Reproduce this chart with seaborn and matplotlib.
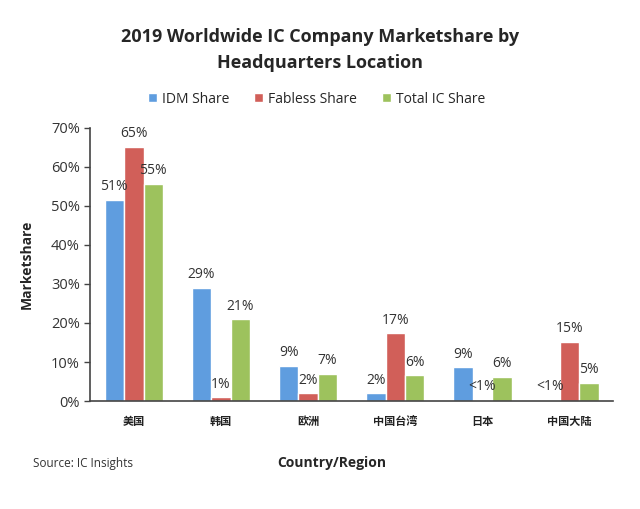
import matplotlib
matplotlib.use("Agg")
import matplotlib.pyplot as plt
import seaborn as sns
import pandas as pd
import numpy as np

categories = ["美国", "韩国", "欧洲", "中国台湾", "日本", "中国大陆"]
series_names = ["IDM Share", "Fabless Share", "Total IC Share"]
idm = [51.5, 29.0, 9.0, 2.0, 8.7, 0.3]
fabless = [65.2, 1.0, 2.0, 17.4, 0.3, 15.2]
total = [55.6, 21.0, 7.0, 6.6, 6.2, 4.7]
idm_labels = ["51%", "29%", "9%", "2%", "9%", "<1%"]
fabless_labels = ["65%", "1%", "2%", "17%", "<1%", "15%"]
total_labels = ["55%", "21%", "7%", "6%", "6%", "5%"]
colors = ["#5f9ddf", "#d15f59", "#9dc25d"]

sns.set_theme(style="white")
plt.rcParams['font.family'] = ['Open Sans', 'Noto Sans CJK SC', 'DejaVu Sans']

rows = []
for name, vals in zip(series_names, [idm, fabless, total]):
    for c, v in zip(categories, vals):
        rows.append({"Country/Region": c, "Series": name, "Value": v})
df = pd.DataFrame(rows)

fig = plt.figure(figsize=(6.4, 5.09), dpi=100)
ax = fig.add_axes([0.141, 0.212, 0.817, 0.537])
sns.barplot(data=df, x="Country/Region", y="Value", hue="Series",
            palette=colors, width=0.67, ax=ax, saturation=1, legend=True)

all_labels = [idm_labels, fabless_labels, total_labels]
for cont, labs in zip(ax.containers, all_labels):
    ax.bar_label(cont, labels=labs, padding=4, fontsize=10, color="#333333")

ax.set_ylim(0, 70)
ax.set_xlim(-0.5, len(categories) - 0.5)
ax.set_yticks(range(0, 71, 10))
ax.set_yticklabels([f"{t}%" for t in range(0, 71, 10)], fontsize=10.5, color="#333333")
ax.set_xticks(range(len(categories)))
ax.set_xticklabels(categories, fontsize=8, fontweight="bold", color="#222222",
                   family=['Noto Sans CJK SC', 'DejaVu Sans'])
ax.set_xticks(np.arange(-0.5, len(categories), 1.0), minor=True)
ax.tick_params(axis="x", which="major", length=0, pad=10)
ax.tick_params(axis="x", which="minor", length=4, width=1, color="#444444", direction="inout")
ax.tick_params(axis="y", length=4, width=1, color="#444444", direction="out", left=True)
for s in ["top", "right"]:
    ax.spines[s].set_visible(False)
for s in ["left", "bottom"]:
    ax.spines[s].set_color("#444444")
    ax.spines[s].set_linewidth(1.2)

ax.set_ylabel("Marketshare", fontsize=10, fontweight="bold", labelpad=12)
ax.set_xlabel("Country/Region", fontsize=10, fontweight="bold")
ax.xaxis.set_label_coords(0.462, -0.2)

leg = ax.legend(loc="center", bbox_to_anchor=(0.495, 0.805), bbox_transform=fig.transFigure,
                ncol=3, frameon=False,
                fontsize=10, handlelength=0.6, handleheight=0.6, handletextpad=0.4,
                columnspacing=1.8)

fig.text(0.5, 0.927, "2019 Worldwide IC Company Marketshare by", ha="center",
         va="center", fontsize=13, fontweight="bold")
fig.text(0.5, 0.876, "Headquarters Location", ha="center", va="center",
         fontsize=13, fontweight="bold")
fig.text(0.052, 0.09, "Source: IC Insights", ha="left", va="center", fontsize=8.5,
         color="#333333")

fig.savefig("out.png", dpi=100)
